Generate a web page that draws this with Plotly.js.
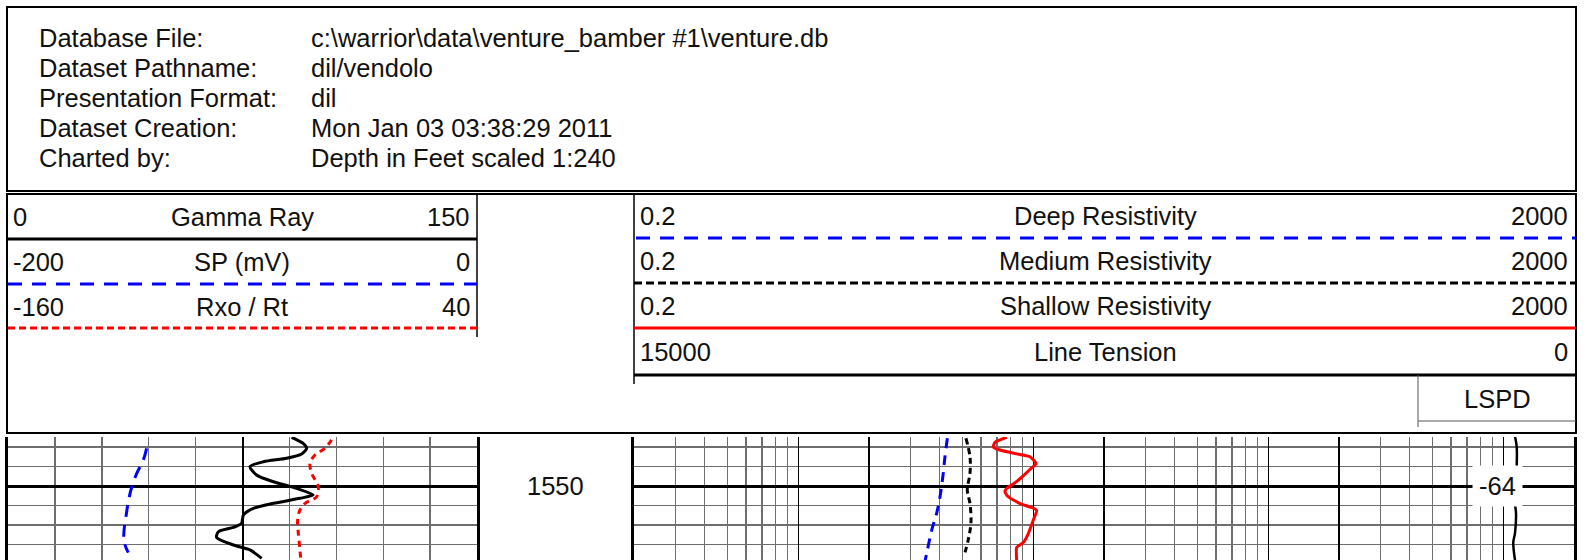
<!DOCTYPE html>
<html><head><meta charset="utf-8">
<script src="https://cdn.plot.ly/plotly-3.0.1.min.js"></script>
<style>html,body{margin:0;padding:0;background:#fff;}#chart{width:1592px;height:560px;}</style>
</head><body><div id="chart"></div>
<script>
// ---------- data ----------
const headerLabels = ["Database File:", "Dataset Pathname:", "Presentation Format:", "Dataset Creation:", "Charted by:"];
const headerValues = ["c:\\warrior\\data\\venture_bamber #1\\venture.db", "dil/vendolo", "dil", "Mon Jan 03 03:38:29 2011", "Depth in Feet scaled 1:240"];

const track1Names = ["Gamma Ray", "SP (mV)", "Rxo / Rt"];
const track1Left = [0, -200, -160];
const track1Right = [150, 0, 40];
const track2Names = ["Deep Resistivity", "Medium Resistivity", "Shallow Resistivity", "Line Tension"];
const track2Left = [0.2, 0.2, 0.2, 15000];
const track2Right = [2000, 2000, 2000, 0];
const lspdName = "LSPD";

const depthTicks = [1550];
const lspdDepth = [1550];
const lspdValue = [-64];

const depthGR = [1545.0,1545.62,1546.13,1546.72,1547.16,1547.51,1548.02,1548.87,1549.56,1550.24,1550.92,1551.26,1551.77,1552.29,1552.97,1553.83,1554.24,1554.69,1555.26,1556.05,1556.56,1557.42];
const gammaRay = [90.7,94.4,95.5,93.9,89.1,81.7,77.4,79.5,84.9,92.3,97.6,93.4,84.9,78.5,75.3,74.7,72.1,67.3,66.7,72.1,77.4,81.1];

const depthSP = [1546.13,1547.33,1548.70,1550.07,1551.61,1553.15,1554.51,1555.71,1556.84];
const spValues = [-140.9,-142.3,-145.1,-147.2,-148.7,-149.7,-150.5,-150.5,-148.7];

const depthRxo = [1545.26,1546.12,1546.82,1547.67,1548.70,1550.07,1551.10,1551.78,1552.46,1553.49,1554.85,1556.56,1557.59];
const rxoRt = [-22.0,-24.8,-29.1,-31.2,-30.5,-27.7,-28.4,-33.3,-35.5,-36.5,-36.2,-35.5,-35.1];

const depthDeep = [1545.1,1547.0,1549.1,1551.1,1552.8,1554.5,1556.9,1557.6];
const deepRes = [4.31,4.21,4.12,4.01,3.88,3.70,3.52,3.47];

const depthMed = [1545.1,1547.0,1548.7,1550.4,1551.8,1553.8,1555.5,1557.2];
const medRes = [5.17,5.38,5.38,5.24,5.38,5.43,5.29,5.07];

const depthShallow = [1545.0,1545.5,1546.0,1546.3,1546.7,1547.0,1547.7,1548.3,1549.1,1549.8,1550.24,1550.6,1551.1,1551.8,1552.2,1552.5,1553.5,1554.9,1555.8,1556.3,1557.6];
const shallowRes = [7.71,6.87,6.76,7.22,8.50,9.68,10.27,9.68,8.93,8.22,7.71,7.58,7.83,8.78,9.85,10.34,10.0,9.52,9.07,8.50,8.50];

const depthTension = [1544.9,1546.0,1547.9,1549.5,1551.0,1551.8,1552.8,1554.8,1555.8,1557.6];
const lineTension = [941,914,914,925,935,941,925,941,969,941];

// ---------- layout helpers ----------
const W = 1592, H = 560;
const X = p => p / W;
const Y = p => 1 - p / H;
const FONT = {family: "Liberation Sans, Arial, sans-serif", size: 25.5, color: "#111"};
const depthRange = [1557.59, 1544.97];
const gridTop = 437;

const traces = [
  {x: gammaRay, y: depthGR, xaxis: "x", yaxis: "y", mode: "lines", line: {color: "#000", width: 3, shape: "spline", smoothing: 0.7}},
  {x: spValues, y: depthSP, xaxis: "x2", yaxis: "y", mode: "lines", line: {color: "#0000ff", width: 3, dash: "12px,8px", shape: "spline"}},
  {x: rxoRt, y: depthRxo, xaxis: "x3", yaxis: "y", mode: "lines", line: {color: "#ff0000", width: 3, dash: "6px,5px", shape: "spline"}},
  {x: deepRes, y: depthDeep, xaxis: "x4", yaxis: "y3", mode: "lines", line: {color: "#0000ff", width: 3, dash: "10px,7px", shape: "spline"}},
  {x: medRes, y: depthMed, xaxis: "x4", yaxis: "y3", mode: "lines", line: {color: "#000", width: 3, dash: "6px,4px", shape: "spline"}},
  {x: shallowRes, y: depthShallow, xaxis: "x4", yaxis: "y3", mode: "lines", line: {color: "#ff0000", width: 3, shape: "spline", smoothing: 0.5}},
  {x: lineTension, y: depthTension, xaxis: "x5", yaxis: "y3", mode: "lines", line: {color: "#000", width: 2.5, shape: "spline"}}
];

const minorLog = [];
[0.1, 1, 10, 100].forEach(d => { for (let k = 3; k <= 9; k++) minorLog.push(+(k * d).toPrecision(3)); });

const hidden = {visible: false, showgrid: false, zeroline: false};
const layout = {
  width: W, height: H, margin: {l: 0, r: 0, t: 0, b: 0},
  paper_bgcolor: "#fff", plot_bgcolor: "#fff", showlegend: false,
  xaxis: {domain: [X(8), X(477)], range: [0, 150], anchor: "y", showticklabels: false, ticks: "", zeroline: false,
    tickvals: [75], showgrid: true, gridcolor: "#000", gridwidth: 2,
    minor: {tickvals: [15, 30, 45, 60, 90, 105, 120, 135], showgrid: true, gridcolor: "#6e6e6e", gridwidth: 1.4}},
  xaxis2: Object.assign({overlaying: "x", anchor: "y", range: [track1Left[1], track1Right[1]]}, hidden),
  xaxis3: Object.assign({overlaying: "x", anchor: "y", range: [track1Left[2], track1Right[2]]}, hidden),
  yaxis: {domain: [0, Y(gridTop)], range: depthRange, anchor: "x", showticklabels: false, ticks: "", zeroline: false,
    tickmode: "linear", tick0: 1550, dtick: 10, showgrid: true, gridcolor: "#000", gridwidth: 3,
    minor: {tick0: 1550, dtick: 2, showgrid: true, gridcolor: "#6e6e6e", gridwidth: 1.4},
    showline: true, mirror: true, linecolor: "#000", linewidth: 3},
  xaxis4: {domain: [X(634), X(1574)], type: "log", range: [Math.log10(track2Left[0]), Math.log10(track2Right[0])], anchor: "y3",
    showticklabels: false, ticks: "", zeroline: false,
    tickvals: [1, 2, 10, 20, 100, 200, 1000], showgrid: true, gridcolor: "#000", gridwidth: 1.3,
    minor: {tickvals: minorLog, showgrid: true, gridcolor: "#6e6e6e", gridwidth: 1.3}},
  xaxis5: Object.assign({overlaying: "x4", anchor: "y3", range: [track2Left[3], track2Right[3]]}, hidden),
  yaxis3: {domain: [0, Y(gridTop)], range: depthRange, anchor: "x4", showticklabels: false, ticks: "", zeroline: false,
    tickmode: "linear", tick0: 1550, dtick: 10, showgrid: true, gridcolor: "#000", gridwidth: 3,
    minor: {tick0: 1550, dtick: 2, showgrid: true, gridcolor: "#6e6e6e", gridwidth: 1.4},
    showline: true, mirror: true, linecolor: "#000", linewidth: 3},
  shapes: [], annotations: []
};

function hline(x0, x1, y, color, width, dash) {
  layout.shapes.push({type: "line", xref: "paper", yref: "paper", x0: X(x0), x1: X(x1), y0: Y(y), y1: Y(y),
    line: {color: color, width: width, dash: dash || "solid"}});
}
function vline(x, y0, y1, color, width) {
  layout.shapes.push({type: "line", xref: "paper", yref: "paper", x0: X(x), x1: X(x), y0: Y(y0), y1: Y(y1),
    line: {color: color, width: width}});
}
function rect(x0, y0, x1, y1, width) {
  layout.shapes.push({type: "rect", xref: "paper", yref: "paper", x0: X(x0), x1: X(x1), y0: Y(y0), y1: Y(y1),
    line: {color: "#000", width: width}, fillcolor: "rgba(0,0,0,0)"});
}
function text(t, x, y, anchor) {
  layout.annotations.push({text: String(t), xref: "paper", yref: "paper", x: X(x), y: Y(y), xanchor: anchor,
    yanchor: "middle", showarrow: false, font: FONT});
}

// boxes
rect(7, 7, 1576, 191, 2);
rect(7, 194, 1576, 433, 2);
vline(477, 194, 337, "#000", 1.5);
vline(634, 194, 384, "#000", 1.5);

// header text
const rowY = [38, 68, 98, 128, 158];
headerLabels.forEach((t, i) => text(t, 37, rowY[i], "left"));
headerValues.forEach((t, i) => text(t, 309, rowY[i], "left"));

// track 1 header
const t1Y = [217, 262, 307];
track1Names.forEach((n, i) => {
  text(track1Left[i], 11, t1Y[i], "left");
  text(n, 242, t1Y[i], "center");
  text(track1Right[i], 472, t1Y[i], "right");
});
hline(7, 477, 239, "#000", 3);
hline(8, 477, 284, "#0000ff", 3, "14px,10px");
hline(8, 477, 328, "#ff0000", 3, "7px,4px");

// track 2 header
const t2Y = [216, 261, 306, 352];
track2Names.forEach((n, i) => {
  text(track2Left[i], 638, t2Y[i], "left");
  text(n, 1105, t2Y[i], "center");
  text(track2Right[i], 1570, t2Y[i], "right");
});
hline(636, 1576, 238, "#0000ff", 3, "14px,10px");
hline(634, 1576, 283, "#000", 3, "8px,4px");
hline(634, 1576, 328, "#ff0000", 3);
hline(634, 1576, 375, "#000", 3);

// LSPD sub header
vline(1418, 375, 427, "#555", 1);
hline(1418, 1576, 421, "#555", 1);
text(lspdName, 1497, 399, "center");

// depth labels
depthTicks.forEach(d => layout.annotations.push({text: String(d), xref: "paper", yref: "y", x: X(555.5), y: d,
  xanchor: "center", yanchor: "middle", showarrow: false, font: FONT}));
lspdDepth.forEach((d, i) => layout.annotations.push({text: String(lspdValue[i]), xref: "paper", yref: "y3", x: X(1497), y: d,
  xanchor: "center", yanchor: "middle", showarrow: false, font: FONT, bgcolor: "#fff", borderpad: 6}));

Plotly.newPlot("chart", traces, layout, {staticPlot: true, displayModeBar: false});
</script></body></html>
